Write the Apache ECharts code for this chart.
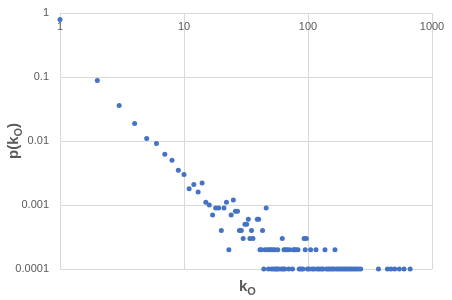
<!DOCTYPE html>
<html>
<head>
<meta charset="utf-8">
<script src="https://cdn.jsdelivr.net/npm/echarts@6/dist/echarts.min.js"></script>
<style>html,body{margin:0;padding:0;background:#fff}#c{width:452px;height:300px}</style>
</head>
<body>
<div id="c"></div>
<script>
// Degree k_O and probability p(k_O)
const headK = [1,2,3,4,5,6,7,8,9,10,11,12,13,14,15,16,17,18,19,20,21,22,24,25,26,27,28,29,31,32,33,35,39,40,43,46];
const headP = [0.79,0.088,0.036,0.0188,0.0109,0.0091,0.0062,0.005,0.0035,0.003,0.0018,0.0021,0.0016,0.0022,0.0011,0.001,0.0007,0.0009,0.0009,0.0004,0.0009,0.0011,0.0007,0.0012,0.0008,0.0008,0.0004,0.0004,0.0005,0.0005,0.0006,0.0004,0.0006,0.0006,0.0004,0.0009];
const kAt0003 = [30,34,36,62,93,97];
const kAt0002 = [23,41,42,45,47,49,50,52,54,57,64,66,68,71,76,78,80,83,95,105,116,137,165];
const kAt0001 = [44,48,51,53,55,56,58,61,63,65,70,75,85,88,91,99,102,108,112,119,123,128,132,141,146,151,157,162,170,176,182,189,196,203,211,219,227,236,245,255,266,370,437,466,500,545,595,666];
const xTicks = [1,10,100,1000];
const yTicks = [0.0001,0.001,0.01,0.1,1];

const data = [];
headK.forEach((k,i)=>data.push([k, headP[i]]));
kAt0003.forEach(k=>data.push([k,0.0003]));
kAt0002.forEach(k=>data.push([k,0.0002]));
kAt0001.forEach(k=>data.push([k,0.0001]));

const gray = '#595959';
const gridC = '#d9d9d9';
const font = 'Liberation Sans, Arial, sans-serif';
const fmt = v => String(parseFloat(Number(v).toPrecision(6)));

const chart = echarts.init(document.getElementById('c'), null, {renderer:'canvas'});
chart.setOption({
  animation: false,
  backgroundColor: '#fff',
  grid: {left: 60, right: 20, top: 13, bottom: 31, containLabel: false, outerBoundsMode: 'none'},
  title: {
    text: '{a|k}{b|O}',
    left: 234, top: 272,
    textStyle: {
      rich: {
        a: {fontFamily: font, fontSize: 15, fontWeight: 'bold', color: gray, lineHeight: 20},
        b: {fontFamily: font, fontSize: 11, fontWeight: 'bold', color: gray, lineHeight: 11, verticalAlign: 'bottom'}
      }
    }
  },
  xAxis: {
    type: 'log', logBase: 10, min: xTicks[0], max: xTicks[xTicks.length-1],
    position: 'top',
    axisLine: {show: true, lineStyle: {color: gridC}},
    axisTick: {show: false},
    minorTick: {show: false},
    splitLine: {show: true, lineStyle: {color: gridC}},
    axisLabel: {inside: true, margin: 8, color: gray, fontFamily: font, fontSize: 11, formatter: fmt}
  },
  yAxis: {
    type: 'log', logBase: 10, min: yTicks[0], max: yTicks[yTicks.length-1],
    axisLine: {show: true, lineStyle: {color: gridC}},
    axisTick: {show: false},
    splitLine: {show: true, lineStyle: {color: gridC}},
    axisLabel: {margin: 11, color: gray, fontFamily: font, fontSize: 11, formatter: fmt},
    name: '{a|p(k}{b|O}{a|)}',
    nameLocation: 'middle', nameGap: 36, nameRotate: 90, nameMoveOverlap: false,
    nameTextStyle: {
      rich: {
        a: {fontFamily: font, fontSize: 15, fontWeight: 'bold', color: gray, lineHeight: 20},
        b: {fontFamily: font, fontSize: 11, fontWeight: 'bold', color: gray, lineHeight: 11, verticalAlign: 'bottom'}
      }
    }
  },
  series: [{
    type: 'scatter',
    data: data,
    symbol: 'circle',
    symbolSize: 5,
    clip: false,
    itemStyle: {color: '#4472c4', opacity: 1}
  }]
});
</script>
</body>
</html>
